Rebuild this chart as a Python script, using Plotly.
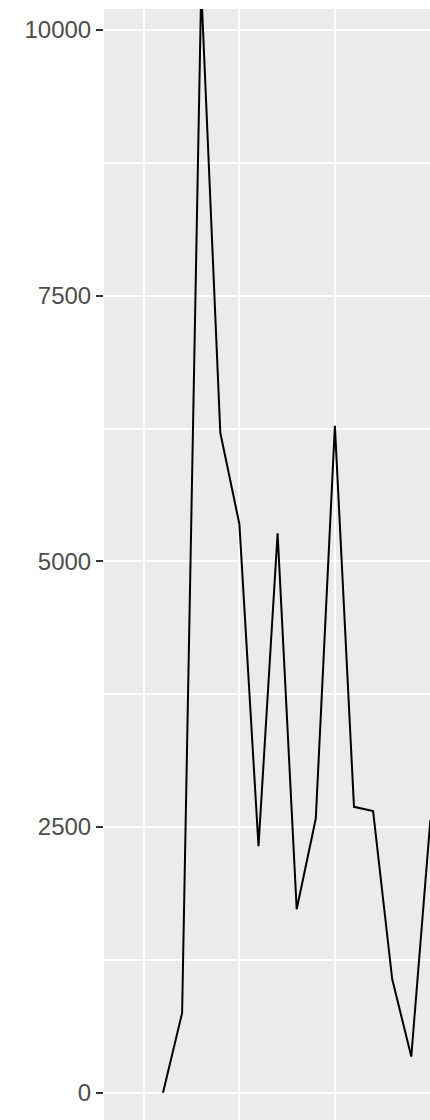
import plotly.graph_objects as go

# Data
years = [1991, 1992, 1993, 1994, 1995, 1996, 1997, 1998, 1999, 2000,
         2001, 2002, 2003, 2004, 2005]
values = [0, 750, 10400, 6210, 5350, 2320, 5265, 1726, 2580, 6275,
          2690, 2650, 1070, 340, 2567]

y_tick_vals = [0, 2500, 5000, 7500, 10000]
y_tick_text = ["0", "2500", "5000", "7500", "10000"]
y_minor_vals = [1250, 3750, 6250, 8750]
x_grid_vals = [1990, 1995, 2000, 2005]

fig = go.Figure()
fig.add_trace(go.Scatter(
    x=years, y=values, mode="lines",
    line=dict(color="black", width=2),
    hoverinfo="skip", showlegend=False,
))

fig.update_layout(
    width=430, height=1120,
    margin=dict(l=104, r=0, t=9, b=0, pad=0),
    paper_bgcolor="white",
    plot_bgcolor="#EBEBEB",
    font=dict(family="Liberation Sans, Arial, sans-serif", size=24, color="#4D4D4D"),
    showlegend=False,
)

fig.update_xaxes(
    range=[1987.91, 2004.98],
    tickvals=x_grid_vals,
    showticklabels=False,
    ticks="",
    showgrid=True, gridcolor="white", gridwidth=2,
    zeroline=False, showline=False,
    fixedrange=True,
)

fig.update_yaxes(
    range=[-257, 10198],
    tickvals=y_tick_vals,
    ticktext=y_tick_text,
    ticks="outside", ticklen=7, tickwidth=2, tickcolor="#333333",
    tickfont=dict(family="Liberation Sans, Arial, sans-serif", size=24, color="#4D4D4D"),
    showgrid=True, gridcolor="white", gridwidth=2,
    minor=dict(tickvals=y_minor_vals, showgrid=True,
               gridcolor="white", gridwidth=1.6, ticks=""),
    zeroline=False, showline=False,
    fixedrange=True,
)

fig.write_html(
    "out.html",
    config={"displayModeBar": False},
    post_script="document.body.style.margin='0';document.body.style.overflow='hidden';",
)
